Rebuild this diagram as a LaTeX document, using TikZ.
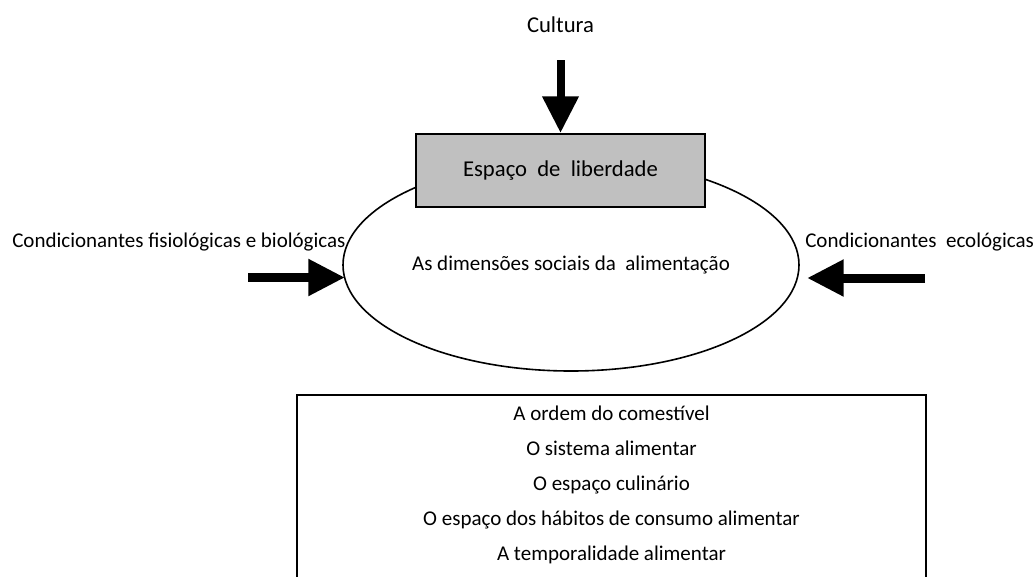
\documentclass[tikz,border=0pt]{standalone}
\usepackage{fontspec}
\setmainfont{Carlito}
\usetikzlibrary{arrows.meta,shapes.geometric}
\definecolor{boxgray}{RGB}{192,192,192}
\begin{document}
\begin{tikzpicture}[x=0.75pt,y=-0.75pt,
  lbl/.style={font=\fontsize{15.75pt}{18pt}\selectfont, inner sep=0pt},
  biglbl/.style={font=\fontsize{17pt}{20pt}\selectfont, inner sep=0pt},
  outline/.style={draw=black, line width=1.2pt},
  fatarrow/.style={line width=#1, -{Triangle[length=27.5pt,width=26pt]}},
  ]
\useasboundingbox (0,0) rectangle (1034,576);
\clip (0,0) rectangle (1034,576);

% ellipse
\node[outline, ellipse, inner sep=0pt, minimum width=342pt, minimum height=159pt,
      lbl] (ell) at (571,265) {As dimensões sociais da \ alimentação};

% grey box
\node[outline, fill=boxgray, minimum width=216.75pt, minimum height=54.75pt,
      biglbl] (box) at (560.5,170.5) {Espaço\ \ de\ \ liberdade};

% labels
\node[biglbl] (cult) at (560.5,25) {Cultura};
\node[lbl, anchor=west] (fis) at (12,242) {Condicionantes fisiológicas e biológicas};
\node[lbl, anchor=west] (eco) at (805,242) {Condicionantes\ \ ecológicas};

% arrow coordinates
\coordinate (topS) at (560.5,60);
\coordinate (topE) at (560.5,133);
\coordinate (leftS) at (248,277.5);
\coordinate (leftE) at (345,277.5);
\coordinate (rightS) at (925,278);
\coordinate (rightE) at (807,278);

\draw[fatarrow=6pt] (topS) -- (topE);
\draw[fatarrow=6.75pt] (leftS) -- (leftE);
\draw[fatarrow=6.75pt] (rightS) -- (rightE);

% bottom box
\draw[outline] (297,620) -- (297,395) -- (926,395) -- (926,620);
\node[lbl, align=center, font=\fontsize{15.75pt}{26.25pt}\selectfont] (list) at (611.5,485)
  {A ordem do comestível\\O sistema alimentar\\O espaço culinário\\O espaço dos hábitos de consumo alimentar\\A temporalidade alimentar};
\end{tikzpicture}
\end{document}
